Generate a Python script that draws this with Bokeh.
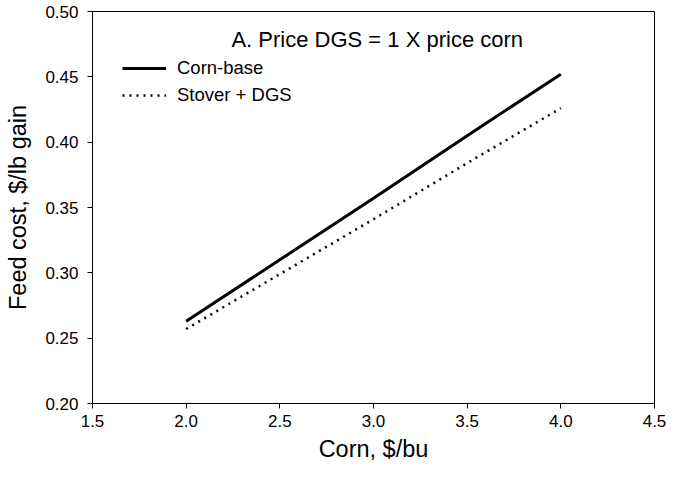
from bokeh.plotting import figure
from bokeh.models import Legend, LegendItem, Label, FixedTicker, NumeralTickFormatter
from bokeh.embed import file_html
from bokeh.resources import INLINE

corn_price = [2.0, 2.5, 3.0, 3.5, 4.0]
corn_base = [0.263, 0.310, 0.357, 0.405, 0.452]
stover_dgs = [0.257, 0.299, 0.341, 0.384, 0.426]
x_ticks = [1.5, 2.0, 2.5, 3.0, 3.5, 4.0, 4.5]
y_ticks = [0.20, 0.25, 0.30, 0.35, 0.40, 0.45, 0.50]
title_text = "A. Price DGS = 1 X price corn"

FONT = "Liberation Sans"

p = figure(width=672, height=470, output_backend="svg", toolbar_location=None,
           x_range=(1.5, 4.5), y_range=(0.20, 0.50),
           min_border_left=92, min_border_right=18, min_border_top=11, min_border_bottom=67,
           x_axis_label="Corn, $/bu", y_axis_label="Feed cost, $/lb gain")
p.xgrid.visible = False
p.ygrid.visible = False
p.outline_line_color = "black"
p.outline_line_width = 1
p.background_fill_color = "white"
p.border_fill_color = "white"

for ax in (p.xaxis[0], p.yaxis[0]):
    ax.axis_line_color = "black"
    ax.major_tick_line_color = "black"
    ax.major_tick_out = 5
    ax.major_tick_in = 0
    ax.minor_tick_line_color = None
    ax.major_label_text_font = FONT
    ax.major_label_text_font_size = "17px"
    ax.major_label_text_color = "black"
    ax.axis_label_text_font = FONT
    ax.axis_label_text_font_size = "23.5px"
    ax.axis_label_text_font_style = "normal"
    ax.axis_label_text_color = "black"

p.xaxis[0].ticker = FixedTicker(ticks=x_ticks)
p.yaxis[0].ticker = FixedTicker(ticks=y_ticks)
p.xaxis[0].formatter = NumeralTickFormatter(format="0.0")
p.yaxis[0].formatter = NumeralTickFormatter(format="0.00")
p.xaxis[0].major_label_standoff = 6
p.yaxis[0].major_label_standoff = 9
p.xaxis[0].axis_label_standoff = 6
p.yaxis[0].axis_label_standoff = 11

r1 = p.line(corn_price, corn_base, line_color="black", line_width=3)
r2 = p.line(corn_price, stover_dgs, line_color="black", line_width=2.5, line_dash="2 5")

legend = Legend(items=[LegendItem(label="Corn-base", renderers=[r1]),
                       LegendItem(label="Stover + DGS", renderers=[r2])],
                location=(30, 297), padding=0, margin=0, spacing=5,
                glyph_width=44, glyph_height=20, label_height=20, label_standoff=11,
                label_text_font=FONT, label_text_font_size="18.5px",
                label_text_color="black",
                border_line_color=None, background_fill_alpha=0)
p.add_layout(legend, "center")

p.add_layout(Label(x=3.02, y=0.4786, text=title_text, text_align="center",
                   text_baseline="middle", text_font=FONT, text_font_size="22px",
                   text_color="black"))

open("out.html", "w").write(file_html(p, INLINE))
